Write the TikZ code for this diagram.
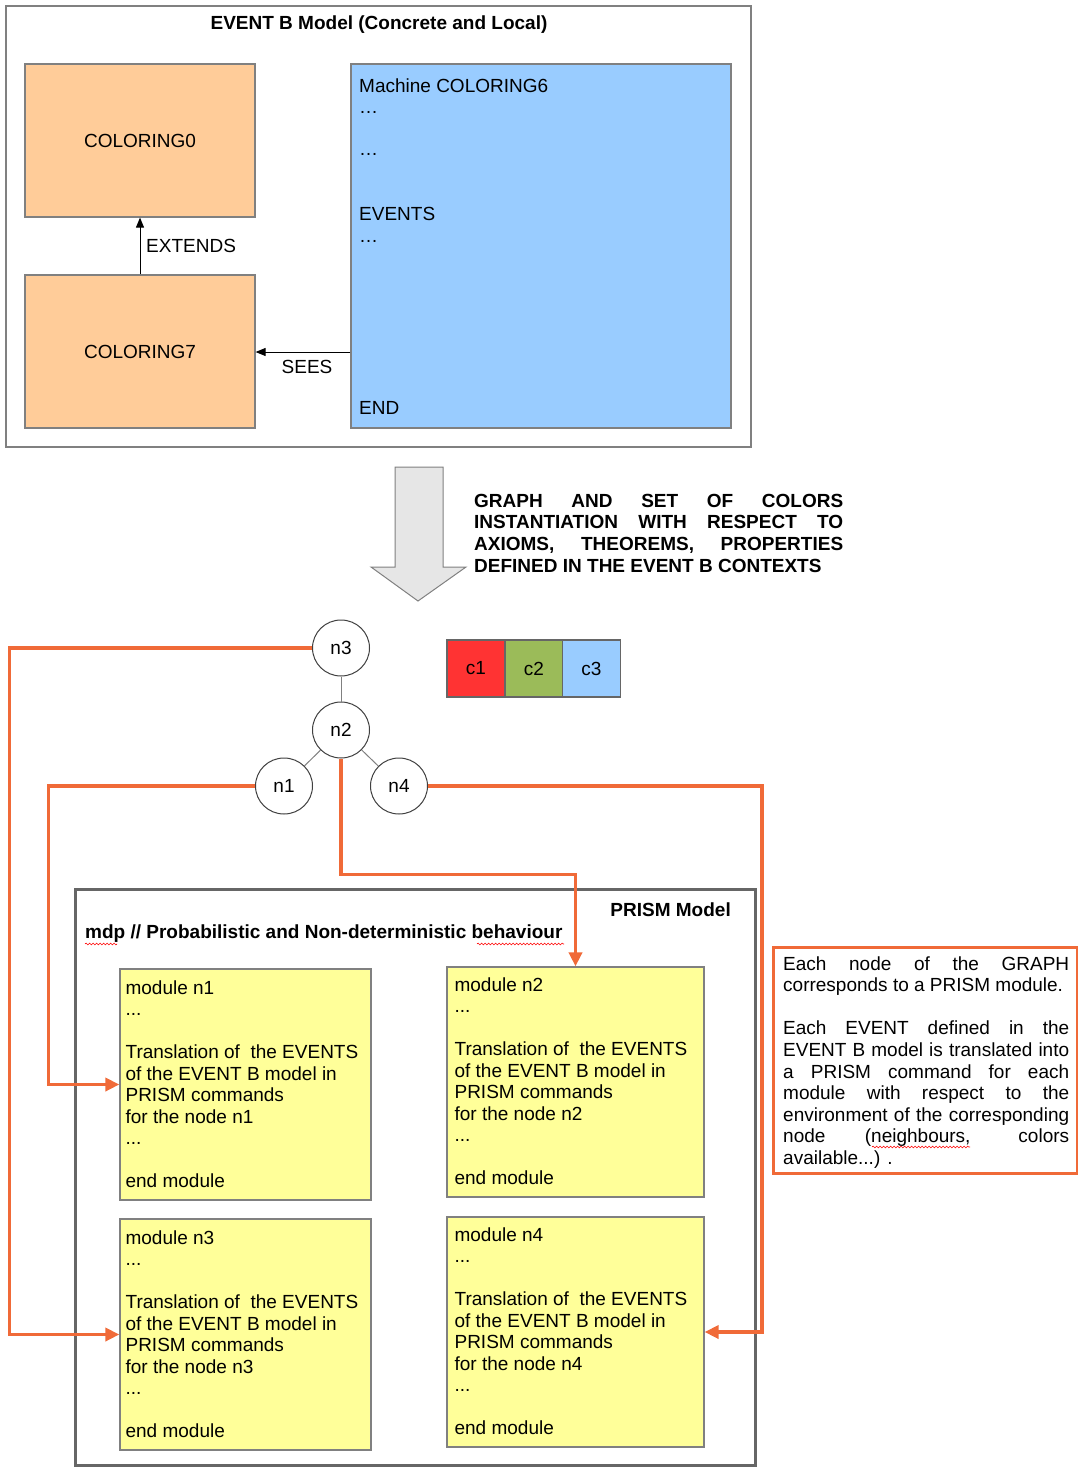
\documentclass[tikz,border=0pt]{standalone}
\usepackage{fontspec}
\setmainfont{Liberation Sans}
\usetikzlibrary{arrows.meta,shapes.geometric,calc,decorations.pathmorphing}
\definecolor{peach}{HTML}{FFCC99}
\definecolor{skyb}{HTML}{99CCFF}
\definecolor{modyellow}{HTML}{FFFF99}
\definecolor{boxgray}{HTML}{808080}
\definecolor{darkgray2}{HTML}{666666}
\definecolor{nodegray}{HTML}{404040}
\definecolor{orangec}{HTML}{F06A38}
\definecolor{cred}{HTML}{FF3333}
\definecolor{cgreen}{HTML}{9BBB59}
\definecolor{arrowfill}{HTML}{E6E6E6}
\newcommand\modtxt[1]{\parbox[t]{245pt}{\raggedright\fontsize{19}{21.5}\selectfont
module #1\\
...\\
\mbox{}\\
Translation of~ the EVENTS\\
of the EVENT B model in\\
PRISM commands\\
for the node #1\\
...\\
\mbox{}\\
end module}}
\begin{document}
\begin{tikzpicture}[x=1pt,y=-1pt,
  font=\fontsize{19}{21.5}\selectfont,
  box/.style={draw=boxgray, line width=1.2pt, inner sep=0pt},
  peachbox/.style={box, fill=peach, minimum width=230pt, minimum height=153pt},
  modbox/.style={draw=boxgray, line width=1.2pt, fill=modyellow, inner sep=0pt},
  gnode/.style={ellipse, draw=nodegray, line width=1pt, minimum width=57pt, minimum height=56pt, inner sep=0pt, fill=white},
  colbox/.style={draw=darkgray2, line width=1.2pt, minimum width=58pt, minimum height=57pt, inner sep=0pt},
  conn/.style={draw=orangec, line width=3.8pt, -{Triangle[length=14pt,width=13pt]}},
  blk/.style={draw=black, line width=1pt, -{Triangle[length=10pt,width=8pt]}},
  gedge/.style={draw=boxgray, line width=1pt},
  txt/.style={inner sep=0pt, anchor=base west},
  wavy/.style={draw=red, line width=0.6pt, decorate, decoration={snake, amplitude=0.9pt, segment length=3.5pt}}
]
\useasboundingbox (0,0) rectangle (1078,1467);

% ---------- EVENT B model ----------
\node[box, minimum width=745pt, minimum height=441pt] (evb) at (378.5,226.5) {};
\node[inner sep=0pt, anchor=base] (evbt) at (379,29) {\bfseries EVENT B Model (Concrete and Local)};
\node[peachbox] (c0) at (140,140.5) {COLORING0};
\node[peachbox] (c7) at (140,351.5) {COLORING7};
\node[box, fill=skyb, minimum width=380pt, minimum height=364pt] (mach) at (541,246) {};
\node[txt] (m1t) at (359,92) {Machine COLORING6};
\node[txt] (m2t) at (359,113) {…};
\node[txt] (m3t) at (359,155) {…};
\node[txt] (m4t) at (359,220) {EVENTS};
\node[txt] (m5t) at (359,242) {…};
\node[txt] (m6t) at (359,414) {END};
\draw[blk] (c7.north) -- (c0.south);
\node[txt] (ext) at (146,252) {EXTENDS};
\coordinate (seesS) at (mach.west |- 0,352);
\coordinate (seesE) at (c7.east |- 0,352);
\draw[blk] (seesS) -- (seesE);
\node[inner sep=0pt, anchor=base] (sees) at (307,373) {SEES};

% ---------- big arrow ----------
\draw[draw=boxgray, line width=1pt, fill=arrowfill]
  (395,467) -- (443,467) -- (443,567) -- (466,567) -- (418,601) -- (371,567) -- (395,567) -- cycle;
\node[txt] (instr) at (474,507) {\parbox[t]{369pt}{\bfseries\fontsize{19}{21.7}\selectfont
\makebox[369pt][s]{GRAPH AND SET OF COLORS}\\
\makebox[369pt][s]{INSTANTIATION WITH RESPECT TO}\\
\makebox[369pt][s]{AXIOMS, THEOREMS, PROPERTIES}\\
DEFINED IN THE EVENT B CONTEXTS}};

% ---------- graph ----------
\node[gnode] (n3) at (341,648) {n3};
\node[gnode] (n2) at (341,730) {n2};
\node[gnode] (n1) at (284,786) {n1};
\node[gnode] (n4) at (399,786) {n4};
\draw[gedge] (n3) -- (n2);
\draw[gedge] (n2) -- (n1);
\draw[gedge] (n2) -- (n4);

\node[colbox, fill=cred] (k1) at (476,668.5) {c1};
\node[colbox, fill=cgreen] (k2) at (534,668.5) {c2};
\node[colbox, fill=skyb] (k3) at (591.5,668.5) {c3};

% ---------- PRISM model ----------
\node[draw=darkgray2, line width=3pt, minimum width=680pt, minimum height=576pt, inner sep=0pt] (prism) at (415,1177.5) {};
\node[inner sep=0pt, anchor=base east] (prt) at (731,916) {\bfseries PRISM Model};
\node[txt] (mdp) at (85,938) {\bfseries mdp // Probabilistic and Non-deterministic behaviour};
\draw[wavy] (85,944) -- (117,944);
\draw[wavy] (477,944) -- (564,944);

\node[modbox, minimum width=251pt, minimum height=231pt] (mod1) at (245.5,1084.5) {};
\node[modbox, minimum width=257pt, minimum height=230pt] (mod2) at (575.5,1082) {};
\node[modbox, minimum width=251pt, minimum height=231pt] (mod3) at (245.5,1334.5) {};
\node[modbox, minimum width=257pt, minimum height=230pt] (mod4) at (575.5,1332) {};
\node[txt] (t1) at ($(mod1.north west)+(6,26)$) {\modtxt{n1}};
\node[txt] (t2) at ($(mod2.north west)+(8,25)$) {\modtxt{n2}};
\node[txt] (t3) at ($(mod3.north west)+(6,26)$) {\modtxt{n3}};
\node[txt] (t4) at ($(mod4.north west)+(8,25)$) {\modtxt{n4}};

% ---------- note ----------
\node[draw=orangec, line width=3pt, minimum width=304pt, minimum height=226pt, inner sep=0pt] (note) at (925,1060) {};
\node[txt] (notet) at (783,970) {\parbox[t]{286pt}{\fontsize{19}{21.6}\selectfont
\makebox[286pt][s]{Each node of the GRAPH}\\
corresponds to a PRISM module.\\
\mbox{}\\
\makebox[286pt][s]{Each EVENT defined in the}\\
\makebox[286pt][s]{EVENT B model is translated into}\\
\makebox[286pt][s]{a PRISM command for each}\\
\makebox[286pt][s]{module with respect to the}\\
\makebox[286pt][s]{environment of the corresponding}\\
\makebox[286pt][s]{node (neighbours, colors}\\
available...) .}};
\draw[wavy] (872,1147) -- (970,1147);

% ---------- orange connectors ----------
\draw[conn] (n3.west) -| ($(mod3.west)+(-110,0)$) -- (mod3.west);
\draw[conn] (n1.west) -| ($(mod1.west)+(-71,0)$) -- (mod1.west);
\draw[conn] (n2.south) |- ($(mod2.north)+(0,-92)$) -- (mod2.north);
\draw[conn] (n4.east) -| ($(mod4.east)+(57,0)$) -- (mod4.east);
\end{tikzpicture}
\end{document}
